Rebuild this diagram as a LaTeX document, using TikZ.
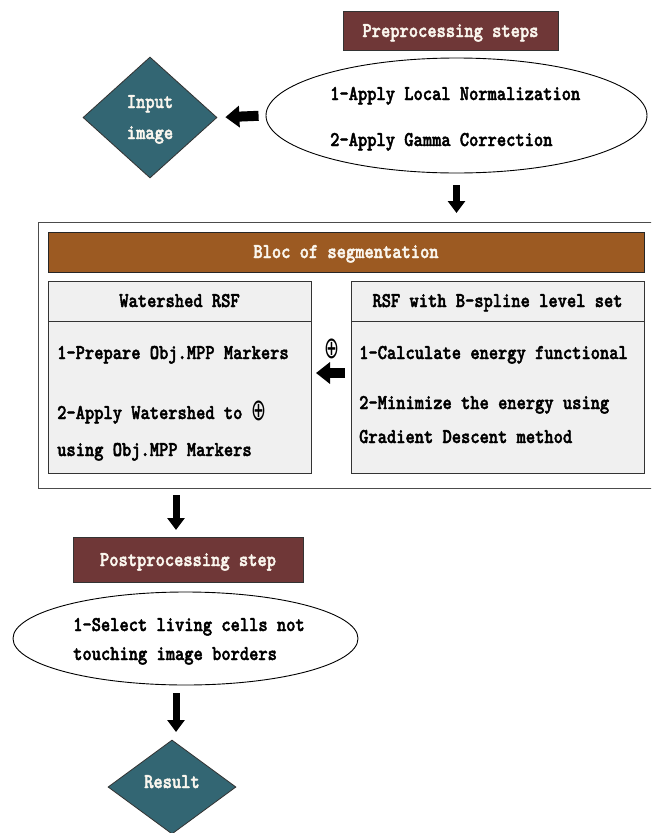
\documentclass[tikz,border=0pt]{standalone}
\usepackage{fontspec}
\usepackage{graphicx}
\newfontfamily\cour{lmmonolt10-bold.otf}[FakeStretch=0.84, FakeBold=2]
\newfontfamily\symf{DejaVu Sans}
\usetikzlibrary{shapes.geometric,arrows.meta}
\definecolor{preBrown}{HTML}{6F3737}
\definecolor{blocBrown}{HTML}{9C5A22}
\definecolor{tealD}{HTML}{336673}
\definecolor{boxGray}{HTML}{F0F0F0}
\definecolor{txtW}{HTML}{FAF6EE}
\newcommand{\osym}{\raisebox{-1.5pt}{\scalebox{0.85}[1.45]{\symf ⊕}}}
\tikzset{
  every node/.style={font=\cour\fontsize{21}{24}\selectfont},
  titlebox/.style={draw=black!80, line width=0.8pt, fill=preBrown, inner sep=0pt},
  blocbar/.style={draw=black!85, line width=1pt, fill=blocBrown, inner sep=0pt},
  graybox/.style={draw=black!80, line width=1pt, fill=boxGray, inner sep=0pt},
  oval/.style={ellipse, draw=black, line width=0.9pt, fill=white, inner sep=0pt},
  dia/.style={diamond, draw=black!80, line width=0.8pt, fill=tealD, inner sep=0pt},
  wtxt/.style={text=txtW, inner sep=0pt, anchor=base},
  btxt/.style={text=black, inner sep=0pt, anchor=base west},
  ctxt/.style={text=black, inner sep=0pt, anchor=base},
  vfat/.style={line width=7pt, -{Triangle[width=17pt,length=12pt]}},
  hfat/.style={line width=10pt, -{Triangle[width=21pt,length=14pt]}},
}
\begin{document}
\begin{tikzpicture}[x=1pt,y=-1pt]
\useasboundingbox (0,0) rectangle (651,833);
\clip (0,0) rectangle (651,833);
\fill[white] (0,0) rectangle (651,833);

% preprocessing
\node[titlebox, minimum width=215, minimum height=39] (pre) at (450.5,30.5) {};
\node[wtxt] (pret) at (450.5,37) {Preprocessing steps};
\node[oval, minimum width=381, minimum height=115] (preov) at (456.5,115.5) {};
\node[btxt] (p1) at (330,100) {1-Apply Local Normalization};
\node[btxt] (p2) at (330,146) {2-Apply Gamma Correction};

% input
\node[dia, minimum width=134, minimum height=121] (input) at (150,117.5) {};
\node[wtxt] (in1) at (150,108) {Input};
\node[wtxt] (in2) at (150,139) {image};
\draw[hfat, shorten <=7pt, shorten >=8pt] (preov.west) -- (input.east);

% outer block
\node[draw=black!70, line width=0.8pt, fill=white, minimum width=662, minimum height=266, inner sep=0pt, anchor=north west] (outer) at (38,222) {};
\draw[vfat, shorten <=12pt, shorten >=9pt] (preov.south) -- (preov.south |- outer.north);

\node[blocbar, minimum width=596, minimum height=40] (bloc) at (346,252) {};
\node[wtxt] (blocT) at (346,258) {Bloc of segmentation};

% watershed box
\node[graybox, minimum width=263, minimum height=40] (wsh) at (179.5,301) {};
\node[graybox, minimum width=263, minimum height=152] (wsb) at (179.5,397) {};
\node[ctxt] (wsT) at (179.5,307) {Watershed RSF};
\node[btxt] (w1) at (57,359) {1-Prepare Obj.MPP Markers};
\node[btxt] (w2) at (57,419) {2-Apply Watershed to \osym};
\node[btxt] (w3) at (57,456) {using Obj.MPP Markers};

% RSF box
\node[graybox, minimum width=293, minimum height=40] (rsh) at (497.5,301) {};
\node[graybox, minimum width=293, minimum height=152] (rsb) at (497.5,397) {};
\node[ctxt] (rsT) at (497.5,307) {RSF with B-spline level set};
\node[btxt] (r1) at (359,359) {1-Calculate energy functional};
\node[btxt] (r2) at (359,409) {2-Minimize the energy using};
\node[btxt] (r3) at (359,443) {Gradient Descent method};

% middle arrow
\coordinate (ma) at (351,373);
\coordinate (mb) at (311,373);
\draw[hfat, shorten <=6pt, shorten >=5pt] (ma) -- (mb);
\node[inner sep=0pt] (theta) at (332,349) {\osym};

% postprocessing
\coordinate (ob) at (176,488);
\coordinate (pt) at (176,537);
\draw[vfat, shorten <=7pt, shorten >=7pt] (ob) -- (pt);
\node[titlebox, minimum width=230, minimum height=45] (post) at (188,559.5) {};
\node[wtxt] (postT) at (188,566) {Postprocessing step};
\node[oval, minimum width=345, minimum height=93] (postov) at (185.5,638.5) {};
\node[btxt] (s1) at (73,631) {1-Select living cells not};
\node[btxt] (s2) at (73,660) {touching image borders};

% result
\node[dia, minimum width=128, minimum height=94] (result) at (172,787) {};
\node[wtxt] (resT) at (172,788) {Result};
\coordinate (pb) at (176,685);
\coordinate (rt) at (176,740);
\draw[vfat, shorten <=8pt, shorten >=8pt] (pb) -- (rt);
\end{tikzpicture}
\end{document}
